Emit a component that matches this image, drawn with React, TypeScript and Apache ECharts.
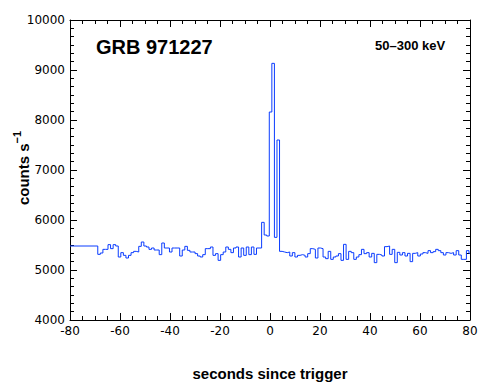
import React, { useEffect, useRef } from "react";
import * as echarts from "echarts";

const X_MIN = -80;
const X_MAX = 80;
const X_STEP = 20;
const Y_MIN = 4000;
const Y_MAX = 10000;
const Y_STEP = 1000;

const TITLE = "GRB 971227";
const BAND = "50\u2013300 keV";
const X_NAME = "seconds since trigger";

// level of the coarse pre-trigger segment (from -80 s to the first bin)
const PRE_TRIGGER_LEVEL = 5480;
// 1.024 s bins
const FIRST_BIN_START = -68.89;
const BIN_WIDTH = 1.024;

const COUNTS_BEFORE = [
  5313, 5340, 5413, 5413, 5507, 5427, 5507, 5480, 5260, 5347,
  5293, 5240, 5293, 5347, 5373, 5360, 5473, 5560, 5480, 5460,
  5413, 5440, 5400, 5400, 5307, 5540, 5440, 5440, 5360, 5440,
  5440, 5440, 5280, 5400, 5473, 5393, 5360, 5360, 5327, 5280,
  5260, 5307, 5427, 5427, 5460, 5293, 5327, 5193, 5307, 5360,
  5460, 5413, 5347, 5440, 5460, 5260, 5440, 5293, 5460, 5307,
  5460, 5313, 5440, 5440, 5953, 5700, 5680,
];

const COUNTS_AFTER = [
  8160, 9133, 5653, 7600, 5373, 5360, 5347, 5360, 5280, 5347,
  5260, 5293, 5307, 5293, 5260, 5327, 5427, 5413, 5240, 5440,
  5427, 5260, 5227, 5373, 5213, 5260, 5280, 5327, 5193, 5513,
  5213, 5373, 5347, 5213, 5260, 5307, 5413, 5327, 5347, 5260,
  5333, 5147, 5313, 5300, 5280, 5467, 5480, 5313, 5413, 5147,
  5353, 5300, 5347, 5280, 5333, 5167, 5333, 5347, 5280, 5320,
  5347, 5333, 5387, 5347, 5367, 5413, 5387, 5347, 5300, 5347,
  5333, 5347, 5300, 5387, 5300, 5213, 5213, 5387, 5333,
];

const COUNTS = [...COUNTS_BEFORE, ...COUNTS_AFTER];

export default function App() {
  const ref = useRef<HTMLDivElement>(null);

  useEffect(() => {
    const chart = echarts.init(ref.current!, null, { renderer: "svg" });

    const data: [number, number][] = [[X_MIN, PRE_TRIGGER_LEVEL]];
    COUNTS.forEach((c, i) => data.push([FIRST_BIN_START + i * BIN_WIDTH, c]));
    data.push([X_MAX, COUNTS[COUNTS.length - 1]]);

    const black = "#000";
    const tickFont = { color: black, fontFamily: "DejaVu Sans", fontSize: 12 };

    const xAxisBase = (pos: "bottom" | "top", labels: boolean) => ({
      type: "value",
      min: X_MIN,
      max: X_MAX,
      interval: X_STEP,
      position: pos,
      axisLine: { show: true, onZero: false, lineStyle: { color: black, width: 1 } },
      axisTick: { show: true, inside: true, length: 7, lineStyle: { color: black, width: 1 } },
      minorTick: { show: true, splitNumber: 4, length: 4, lineStyle: { color: black, width: 1 } },
      splitLine: { show: false },
      minorSplitLine: { show: false },
      axisLabel: {
        show: labels,
        ...tickFont,
        margin: 5,
        showMinLabel: true,
        showMaxLabel: true,
        formatter: (v: number) => String(v),
      },
    });

    const yAxisBase = (pos: "left" | "right", labels: boolean) => ({
      type: "value",
      min: Y_MIN,
      max: Y_MAX,
      interval: Y_STEP,
      position: pos,
      axisLine: { show: true, onZero: false, lineStyle: { color: black, width: 1 } },
      axisTick: { show: true, inside: true, length: 7, lineStyle: { color: black, width: 1 } },
      minorTick: { show: true, splitNumber: 6, length: 4, lineStyle: { color: black, width: 1 } },
      splitLine: { show: false },
      minorSplitLine: { show: false },
      axisLabel: {
        show: labels,
        ...tickFont,
        margin: 5,
        showMinLabel: true,
        showMaxLabel: true,
        formatter: (v: number) => String(v),
      },
    });

    chart.setOption({
      animation: false,
      backgroundColor: "#fff",
      grid: { left: 70, right: 20, top: 20, bottom: 70, containLabel: false },
      xAxis: [xAxisBase("bottom", true), xAxisBase("top", false)],
      yAxis: [yAxisBase("left", true), yAxisBase("right", false)],
      series: [
        {
          type: "line",
          step: "end",
          xAxisIndex: 0,
          yAxisIndex: 0,
          data,
          symbol: "none",
          clip: true,
          lineStyle: { color: "#0a3cff", width: 1 },
        },
      ],
      graphic: [
        {
          type: "text",
          x: 96,
          y: 47,
          style: {
            text: TITLE,
            font: 'bold 20px "Liberation Sans", Arial, sans-serif',
            fill: black,
            align: "left",
            verticalAlign: "middle",
          },
        },
        {
          type: "text",
          x: 375,
          y: 45,
          style: {
            text: BAND,
            font: 'bold 13px "Liberation Sans", Arial, sans-serif',
            fill: black,
            align: "left",
            verticalAlign: "middle",
          },
        },
        {
          type: "text",
          x: 270,
          y: 373,
          style: {
            text: X_NAME,
            font: 'bold 15px "Liberation Sans", Arial, sans-serif',
            fill: black,
            align: "center",
            verticalAlign: "middle",
          },
        },
        {
          type: "text",
          x: 21,
          y: 168,
          rotation: Math.PI / 2,
          style: {
            text: "{a|counts s}{b|\u22121}",
            align: "center",
            verticalAlign: "middle",
            rich: {
              a: {
                fontFamily: '"Liberation Sans", Arial, sans-serif',
                fontWeight: "bold",
                fontSize: 15,
                fill: black,
                color: black,
                lineHeight: 20,
                verticalAlign: "bottom",
              },
              b: {
                fontFamily: '"Liberation Sans", Arial, sans-serif',
                fontWeight: "bold",
                fontSize: 11,
                fill: black,
                color: black,
                lineHeight: 20,
                verticalAlign: "top",
              },
            },
          },
        },
      ],
    });

    return () => chart.dispose();
  }, []);

  return (
    <div
      ref={ref}
      style={{ position: "absolute", left: 0, top: 0, width: 490, height: 390, background: "#fff" }}
    />
  );
}
